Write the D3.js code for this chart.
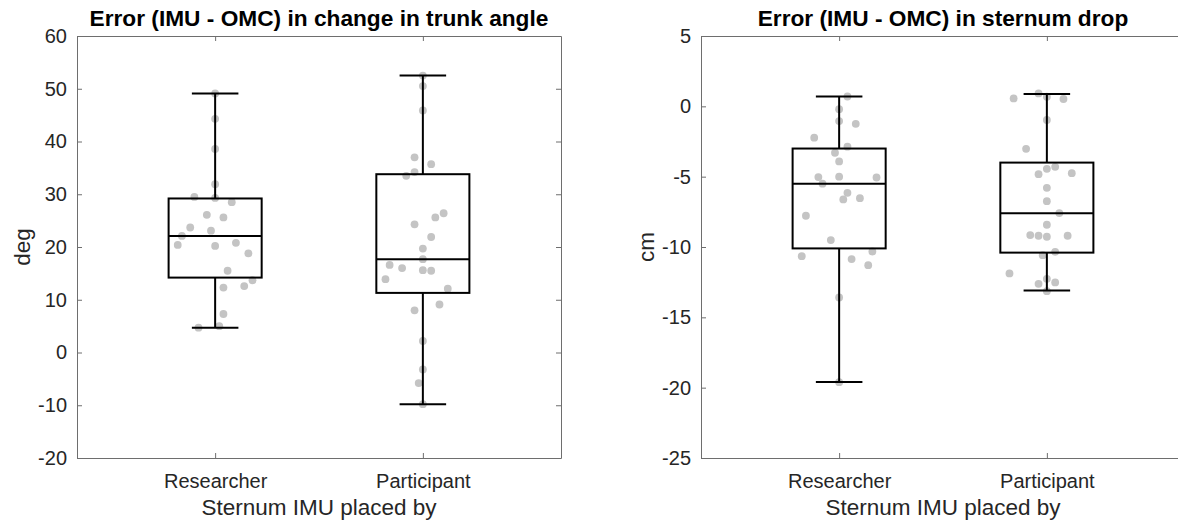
<!DOCTYPE html>
<html>
<head>
<meta charset="utf-8">
<script src="https://cdn.jsdelivr.net/npm/d3@7"></script>
<style>
  html, body { margin: 0; padding: 0; background: #fff; overflow: hidden; }
  svg { display: block; font-family: "Liberation Sans", Arial, sans-serif; }
</style>
</head>
<body>
<svg id="chart" width="1178" height="525"></svg>
<script>
// Groups on the x axis
const categories = ["Researcher", "Participant"];

// Trunk angle error (deg), one value per trial
const trunkResearcher = [49.1, 44.3, 38.6, 31.9, 29.5, 29.3, 28.5, 26.1, 25.6, 23.7, 23.1, 22.1, 20.4, 20.2, 20.8, 18.8, 15.5, 13.7, 12.6, 12.3, 7.3, 4.7, 5.0];
const trunkParticipant = [52.5, 50.5, 45.9, 37.0, 35.7, 34.2, 33.5, 26.4, 25.6, 24.3, 21.9, 19.7, 17.7, 16.6, 16.0, 15.6, 15.5, 13.9, 12.1, 9.1, 8.0, 2.2, -3.2, -5.8, -9.8];

// Sternum drop error (cm), one value per trial
const sternumResearcher = [0.7, -0.2, -1.05, -1.24, -2.23, -2.87, -3.3, -3.92, -5.03, -5.0, -5.06, -5.5, -6.15, -6.62, -6.53, -7.78, -9.51, -10.65, -10.32, -10.86, -11.29, -13.59, -19.61];
const sternumParticipant = [0.56, 0.92, 0.68, 0.52, -0.97, -3.02, -4.3, -4.44, -4.82, -4.75, -5.79, -6.74, -7.59, -8.42, -9.15, -9.2, -9.27, -9.2, -10.34, -10.58, -11.88, -12.26, -12.62, -12.52, -13.14];

// Horizontal jitter of each scatter point, in category units
const jitterTrunkResearcher = [0, 0, 0, 0, -0.10, 0, 0.08, -0.04, 0.04, -0.12, -0.02, -0.16, -0.18, 0, 0.10, 0.16, 0.06, 0.18, 0.14, 0.04, 0.04, -0.08, 0.02];
const jitterTrunkParticipant = [0, 0, 0, -0.04, 0.04, -0.04, -0.08, 0.10, 0.06, -0.04, 0.04, 0, 0, -0.16, -0.10, 0, 0.04, -0.18, 0.12, 0.08, -0.04, 0, 0, -0.02, 0];
const jitterSternumResearcher = [0.04, 0, 0, 0.08, -0.12, 0.04, -0.02, 0, -0.10, 0, 0.18, -0.08, 0.04, 0.02, 0.10, -0.16, -0.04, -0.18, 0.16, 0.06, 0.14, 0, 0];
const jitterSternumParticipant = [-0.16, -0.04, 0, 0.08, 0, -0.10, 0.04, 0, -0.04, 0.12, 0, 0, 0.06, 0, -0.08, -0.04, 0, 0.10, 0.04, -0.02, -0.18, 0, -0.04, 0.04, 0];

// Box statistics: [lower whisker, Q1, median, Q3, upper whisker]
const trunkBoxResearcher = [4.7, 14.2, 22.1, 29.2, 49.1];
const trunkBoxParticipant = [-9.8, 11.3, 17.7, 33.8, 52.5];
const sternumBoxResearcher = [-19.6, -10.1, -5.5, -3.0, 0.7];
const sternumBoxParticipant = [-13.1, -10.4, -7.6, -4.0, 0.87];

// Axis ticks
const trunkTicks = [-20, -10, 0, 10, 20, 30, 40, 50, 60];
const sternumTicks = [-25, -20, -15, -10, -5, 0, 5];

const svg = d3.select("#chart");
const AXIS = "#6e6e6e", TEXT = "#262626";
const LABEL_SIZE = "22.5px";

function drawPanel(opts) {
  const { left, right, top, bottom, yDomain, ticks, title, yLabel, values, jitters, boxes } = opts;
  const g = svg.append("g");

  const x = d3.scaleLinear().domain([1 - 0.665, 2 + 0.665]).range([left, right]);
  const y = d3.scaleLinear().domain(yDomain).range([bottom, top]);
  const tickLen = 5;

  // scatter points (drawn beneath the boxes)
  values.forEach((vals, i) => {
    g.append("g").selectAll("circle")
      .data(vals.map((v, k) => ({ v, j: jitters[i][k] })))
      .join("circle")
      .attr("cx", d => x(i + 1 + d.j))
      .attr("cy", d => y(d.v))
      .attr("r", 3.9)
      .attr("fill", "#c4c4c4");
  });

  // boxes, medians and whiskers
  const boxHalf = 0.224, capHalf = 0.112;
  boxes.forEach((b, i) => {
    const c = i + 1;
    const [lo, q1, med, q3, hi] = b;
    const bg = g.append("g").attr("stroke", "#000").attr("stroke-width", 2).attr("fill", "none");
    bg.append("line").attr("x1", x(c)).attr("x2", x(c)).attr("y1", y(q3)).attr("y2", y(hi));
    bg.append("line").attr("x1", x(c)).attr("x2", x(c)).attr("y1", y(q1)).attr("y2", y(lo));
    bg.append("line").attr("x1", x(c - capHalf)).attr("x2", x(c + capHalf)).attr("y1", y(hi)).attr("y2", y(hi));
    bg.append("line").attr("x1", x(c - capHalf)).attr("x2", x(c + capHalf)).attr("y1", y(lo)).attr("y2", y(lo));
    bg.append("rect").attr("x", x(c - boxHalf)).attr("y", y(q3))
      .attr("width", x(c + boxHalf) - x(c - boxHalf)).attr("height", y(q1) - y(q3));
    bg.append("line").attr("x1", x(c - boxHalf)).attr("x2", x(c + boxHalf)).attr("y1", y(med)).attr("y2", y(med));
  });

  // axes, with ticks pointing inward on all four sides
  const yAxis = d3.axisLeft(y).tickValues(ticks).tickFormat(d => String(d))
    .tickSizeInner(-tickLen).tickSizeOuter(0).tickPadding(10);
  const ya = g.append("g").attr("transform", `translate(${left},0)`).call(yAxis);
  const yRight = d3.axisRight(y).tickValues(ticks).tickSizeInner(-tickLen).tickSizeOuter(0).tickFormat("");
  const yr = g.append("g").attr("transform", `translate(${right},0)`).call(yRight);
  const xAxis = d3.axisBottom(x).tickValues([1, 2]).tickFormat(d => categories[d - 1])
    .tickSizeInner(-tickLen).tickSizeOuter(0).tickPadding(16);
  const xa = g.append("g").attr("transform", `translate(0,${bottom})`).call(xAxis);
  const xTop = d3.axisTop(x).tickValues([1, 2]).tickFormat("").tickSizeInner(-tickLen).tickSizeOuter(0);
  const xt = g.append("g").attr("transform", `translate(0,${top})`).call(xTop);

  [ya, yr, xa, xt].forEach(a => {
    a.select(".domain").attr("stroke", AXIS).attr("stroke-width", 1);
    a.selectAll(".tick line").attr("stroke", AXIS).attr("stroke-width", 1);
    a.selectAll("text").attr("fill", TEXT).style("font-size", "20px");
  });

  // title
  g.append("text")
    .attr("x", (left + right) / 2)
    .attr("y", 26)
    .attr("text-anchor", "middle")
    .style("font-size", "22.7px").style("font-weight", "bold").attr("fill", "#000")
    .text(title);

  // axis labels
  g.append("text")
    .attr("transform", `translate(${left - 47},${(top + bottom) / 2}) rotate(-90)`)
    .attr("text-anchor", "middle")
    .style("font-size", LABEL_SIZE).attr("fill", TEXT)
    .text(yLabel);
  g.append("text")
    .attr("x", (left + right) / 2)
    .attr("y", 515)
    .attr("text-anchor", "middle")
    .style("font-size", LABEL_SIZE).attr("fill", TEXT)
    .text("Sternum IMU placed by");
}

drawPanel({
  left: 77, right: 561, top: 36, bottom: 458,
  yDomain: [-20, 60], ticks: trunkTicks,
  title: "Error (IMU - OMC) in change in trunk angle", yLabel: "deg",
  values: [trunkResearcher, trunkParticipant],
  jitters: [jitterTrunkResearcher, jitterTrunkParticipant],
  boxes: [trunkBoxResearcher, trunkBoxParticipant]
});

drawPanel({
  left: 701, right: 1185, top: 36, bottom: 458,
  yDomain: [-25, 5], ticks: sternumTicks,
  title: "Error (IMU - OMC) in sternum drop", yLabel: "cm",
  values: [sternumResearcher, sternumParticipant],
  jitters: [jitterSternumResearcher, jitterSternumParticipant],
  boxes: [sternumBoxResearcher, sternumBoxParticipant]
});
</script>
</body>
</html>
